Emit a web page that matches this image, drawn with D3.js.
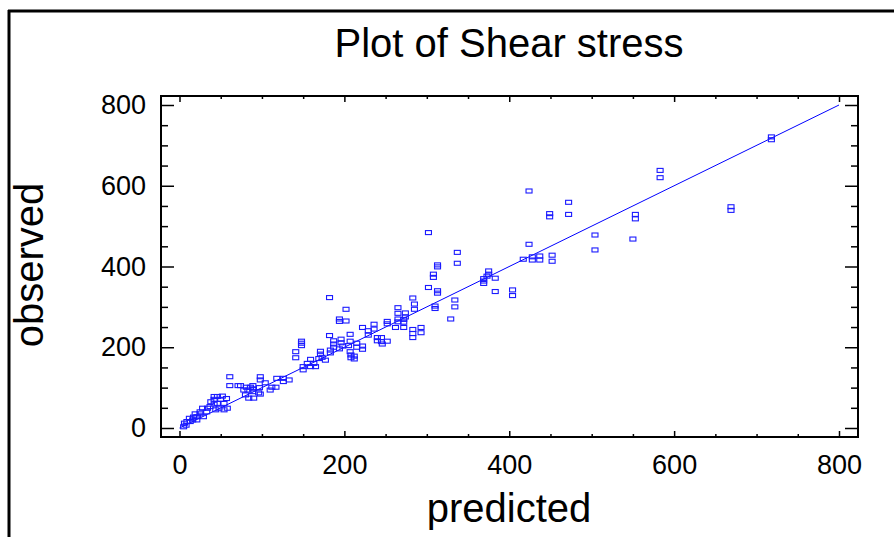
<!DOCTYPE html>
<html><head><meta charset="utf-8">
<script src="https://cdn.jsdelivr.net/npm/d3@7"></script>
<style>
html,body{margin:0;padding:0;background:#fff;}
svg{display:block;}
text{font-family:"Liberation Sans",Arial,Helvetica,sans-serif;fill:#000;}
</style></head>
<body>
<svg id="chart" width="894" height="537"></svg>
<script>
const title = "Plot of Shear stress";
const xLabel = "predicted";
const yLabel = "observed";
const majorTicks = [0, 200, 400, 600, 800];
const minorTicks = [50,100,150,250,300,350,450,500,550,650,700,750];
const fitLine = [[0, 0], [800, 800]];

const predicted = [
 5,6,8,9,13,12,16,17,19,21,21,25,25,28,29,33,34,37,38,42,42,42,44,46,46,48,50,52,54,54,57,58,
 61,61,71,74,78,80,81,83,84,86,89,89,89,90,96,97,98,98,98,104,110,112,117,118,126,126,133,
 141,141,148,148,148,150,150,155,159,159,163,165,169,171,171,173,177,182,182,183,183,187,187,187,
 194,194,194,196,196,198,202,202,205,207,207,207,208,208,212,212,215,215,222,222,222,229,229,
 236,236,240,240,245,245,246,252,252,252,262,265,265,265,265,272,272,272,274,274,283,283,283,283,
 285,285,293,293,
 302,302,308,308,310,310,313,313,313,313,329,334,334,337,337,369,369,369,373,375,375,383,383,
 404,404,417,424,424,428,428,437,437,449,449,452,452,472,472,504,504,550,553,553,583,583,669,669,718,718
];
const observed = [
 3,12,7,16,16,24,20,27,35,20,28,35,40,49,28,40,49,53,65,59,71,78,45,61,78,49,71,79,61,45,73,49,
 127,105,105,105,94,82,101,94,74,101,105,97,90,74,87,100,127,119,84,112,94,101,101,123,123,115,119,
 189,174,215,210,204,152,144,160,170,152,160,152,172,190,183,175,168,323,229,193,186,216,208,200,
 270,264,196,220,211,203,294,265,204,232,215,189,181,174,178,171,210,200,249,203,195,241,230,
 257,245,224,216,224,214,208,264,258,215,249,298,284,270,263,269,262,249,285,275,322,244,234,224,
 307,294,249,236,
 484,348,381,373,302,296,404,399,340,334,270,317,300,435,408,370,364,358,376,389,381,371,338,
 342,328,418,587,455,424,416,426,416,531,523,428,413,559,529,478,441,468,529,518,638,620,548,539,721,714
];

const svg = d3.select("#chart");
svg.append("rect").attr("width",894).attr("height",537).attr("fill","#fff");

// outer frame lines
svg.append("line").attr("x1",8).attr("x2",894).attr("y1",11).attr("y2",11)
  .attr("stroke","#000").attr("stroke-width",3);
svg.append("line").attr("x1",9).attr("x2",9).attr("y1",10).attr("y2",537)
  .attr("stroke","#000").attr("stroke-width",3);

const L = 161, R = 858, T = 96, B = 437;
const x = d3.scaleLinear().domain([0, 800]).range([179.5, 839]);
const y = d3.scaleLinear().domain([0, 800]).range([428, 105]);

const fmt = d3.format("d");
function styleAxis(g){
  g.select(".domain").remove();
  g.selectAll("line").attr("stroke","#000").attr("stroke-width",1.5);
  g.selectAll("text").attr("font-size",27).attr("fill","#000")
   .attr("font-family","'Liberation Sans',Arial,sans-serif");
}
// left
svg.append("g").attr("transform",`translate(${L},0)`)
  .call(d3.axisLeft(y).tickValues(majorTicks).tickSize(-13).tickPadding(15).tickFormat(fmt)).call(styleAxis);
svg.append("g").attr("transform",`translate(${L},0)`)
  .call(d3.axisLeft(y).tickValues(minorTicks).tickSize(-7).tickFormat("")).call(styleAxis);
// right
svg.append("g").attr("transform",`translate(${R},0)`)
  .call(d3.axisRight(y).tickValues(majorTicks).tickSize(-13).tickFormat("")).call(styleAxis);
svg.append("g").attr("transform",`translate(${R},0)`)
  .call(d3.axisRight(y).tickValues(minorTicks).tickSize(-7).tickFormat("")).call(styleAxis);
// bottom
svg.append("g").attr("transform",`translate(0,${B})`)
  .call(d3.axisBottom(x).tickValues(majorTicks).tickSize(-6).tickPadding(18).tickFormat(fmt)).call(styleAxis);
svg.append("g").attr("transform",`translate(0,${B})`)
  .call(d3.axisBottom(x).tickValues(minorTicks).tickSize(-3).tickFormat("")).call(styleAxis);
// top
svg.append("g").attr("transform",`translate(0,${T})`)
  .call(d3.axisTop(x).tickValues(majorTicks).tickSize(-6).tickFormat("")).call(styleAxis);
svg.append("g").attr("transform",`translate(0,${T})`)
  .call(d3.axisTop(x).tickValues(minorTicks).tickSize(-3).tickFormat("")).call(styleAxis);

// frame
svg.append("rect").attr("x",L).attr("y",T).attr("width",R-L).attr("height",B-T)
  .attr("fill","none").attr("stroke","#000").attr("stroke-width",2);

// fit line
svg.append("path").datum(fitLine)
  .attr("d", d3.line().x(d=>x(d[0])).y(d=>y(d[1])))
  .attr("fill","none").attr("stroke","#0000ff").attr("stroke-width",1);

// points
const pts = predicted.map((p,i)=>({p, o: observed[i]}));
svg.append("g").selectAll("rect").data(pts).join("rect")
  .attr("x", d=>x(d.p)-3).attr("y", d=>y(d.o)-2)
  .attr("width",6).attr("height",4)
  .attr("fill","none").attr("stroke","#1a1aff").attr("stroke-width",1.1);

// titles
svg.append("text").attr("x",509).attr("y",57).attr("text-anchor","middle")
  .attr("font-size",40).text(title);
svg.append("text").attr("x",509).attr("y",522).attr("text-anchor","middle")
  .attr("font-size",40).text(xLabel);
svg.append("text").attr("transform","translate(43,265) rotate(-90)").attr("text-anchor","middle")
  .attr("font-size",40).text(yLabel);
</script>
</body></html>
